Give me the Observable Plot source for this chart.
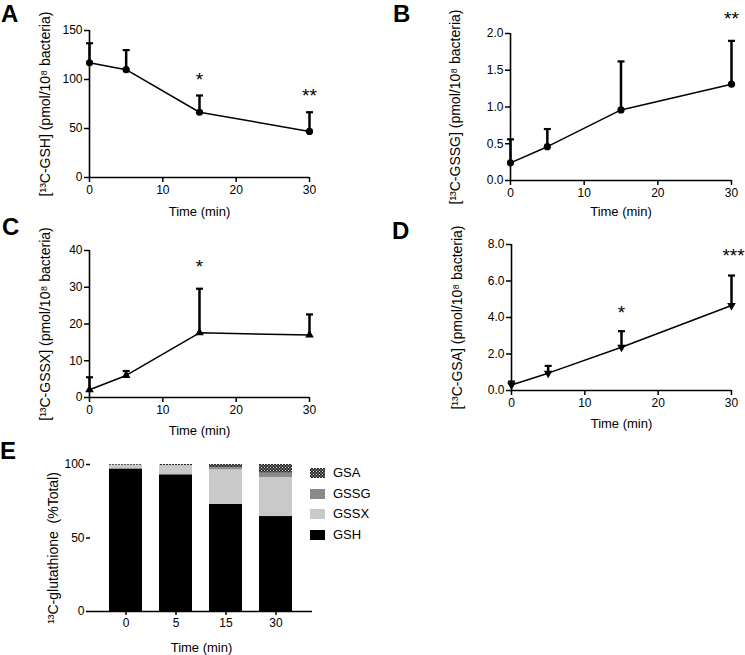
<!DOCTYPE html>
<html><head><meta charset="utf-8">
<script src="https://cdn.jsdelivr.net/npm/d3@7"></script>
<script src="https://cdn.jsdelivr.net/npm/@observablehq/plot@0.6"></script>
<style>
body{margin:0;background:#fff;font-family:"Liberation Sans",Arial,sans-serif;color:#000;}
#root{position:relative;width:745px;height:655px;overflow:hidden;background:#fff;}
.panel{position:absolute;}
.letter{position:absolute;font-weight:bold;font-size:24px;line-height:24px;}
.legend{position:absolute;left:310px;top:463px;font-size:13px;}
.legend .row{position:relative;height:20.7px;line-height:20px;}
.legend .sw{position:absolute;left:0;top:5px;width:15px;height:10px;}
.legend .tx{position:absolute;left:23px;top:0;}
</style></head>
<body><div id="root"></div>
<script>
// ---- data ----
const times = [0, 5, 15, 30];
const xTicks = [0, 10, 20, 30];

const gshMean  = [117, 110, 66.6, 47];
const gshUpper = [137, 130, 83.7, 66.6];
const gssgMean  = [0.24, 0.46, 0.96, 1.31];
const gssgUpper = [0.56, 0.70, 1.62, 1.90];
const gssxMean  = [2.1, 6.0, 17.6, 17.0];
const gssxUpper = [5.5, 7.2, 29.6, 22.6];
const gsaMean  = [0.3, 0.95, 2.37, 4.66];
const gsaUpper = [0.49, 1.35, 3.25, 6.3];

// significance annotations (time, y position, symbol)
const starsA = [{t: 15, y: 100, s: "*"}, {t: 30, y: 83.7, s: "**"}];
const starsB = [{t: 30, y: 2.20, s: "**"}];
const starsC = [{t: 15, y: 35.4, s: "*"}];
const starsD = [{t: 15, y: 4.27, s: "*"}, {t: 30, y: 7.40, s: "***", shift: true}];

const ticksA = [0, 50, 100, 150];
const ticksB = [0, 0.5, 1.0, 1.5, 2.0];
const ticksC = [0, 10, 20, 30, 40];
const ticksD = [0, 2, 4, 6, 8];

const labelA = "[¹³C-GSH] (pmol/10⁸ bacteria)";
const labelB = "[¹³C-GSSG] (pmol/10⁸ bacteria)";
const labelC = "[¹³C-GSSX] (pmol/10⁸ bacteria)";
const labelD = "[¹³C-GSA] (pmol/10⁸ bacteria)";
const labelX = "Time (min)";

// panel E (percent of total)
const barTimes = ["0", "5", "15", "30"];
const seriesNames = ["GSH", "GSSX", "GSSG", "GSA"];
const pctGSH  = [97.0, 93.0, 72.8, 64.6];
const pctGSSX = [2.3, 6.1, 23.6, 26.6];
const pctGSSG = [0.2, 0.2, 1.4, 2.9];
const pctGSA  = [0.5, 0.7, 2.2, 5.9];
const seriesColors = ["#000000", "#c9c9c9", "#8a8a8a", "url(#gsaCheck)"];
const labelE = "¹³C-glutathione\u00a0 (%Total)";

// ---- helpers ----
const root = document.getElementById("root");
const capSymbol = {draw(ctx, size) { const r = Math.sqrt(size / Math.PI); ctx.moveTo(-r, 0); ctx.lineTo(r, 0); }};
const baseStyle = {background: "transparent", fontFamily: "'Liberation Sans', Arial, sans-serif", fontSize: "12px", color: "#000", overflow: "visible"};

function place(el, left, top) {
  el.classList.add("panel");
  el.style.left = left + "px";
  el.style.top = top + "px";
  root.appendChild(el);
}
function letter(t, left, top) {
  const d = document.createElement("div");
  d.className = "letter"; d.textContent = t;
  d.style.left = left + "px"; d.style.top = top + "px";
  root.appendChild(d);
}

function linePanel(o) {
  const rows = times.map((t, i) => ({t, m: o.mean[i], u: o.upper[i]}));
  return Plot.plot({
    width: o.width, height: o.height,
    marginLeft: o.ml, marginRight: o.mr, marginTop: o.mt, marginBottom: o.mb,
    style: baseStyle,
    x: {domain: [0, 30]},
    y: {domain: [o.ticks[0], o.ticks[o.ticks.length - 1]]},
    marks: [
      Plot.axisX({ticks: xTicks, tickSize: 5, tickPadding: 3, strokeWidth: 1.5, fontSize: 12, label: null}),
      Plot.axisY({ticks: o.ticks, tickFormat: o.fmt, tickSize: 5, tickPadding: 2, strokeWidth: 1.5, fontSize: 12, label: null}),
      Plot.ruleY([o.ticks[0]], {stroke: "#000", strokeWidth: 1.6}),
      Plot.ruleX([0], {stroke: "#000", strokeWidth: 1.6}),
      Plot.ruleX(rows, {x: "t", y1: "m", y2: "u", stroke: "#000", strokeWidth: 2.5}),
      Plot.dot(rows, {x: "t", y: "u", symbol: capSymbol, r: 3.5, stroke: "#000", strokeWidth: 2.2, fill: "none"}),
      Plot.line(rows, {x: "t", y: "m", stroke: "#000", strokeWidth: 1.5}),
      Plot.dot(rows, {x: "t", y: "m", symbol: o.symbol, r: o.r, fill: "#000", stroke: "none", rotate: o.rotate || 0}),
      Plot.text(o.stars, {filter: (d) => !d.shift, x: "t", y: "y", text: "s", fontSize: 19, fill: "#000"}),
      Plot.text(o.stars, {filter: (d) => d.shift, x: "t", y: "y", text: "s", fontSize: 19, dx: 2, fill: "#000"}),
      Plot.text([o.label], {frameAnchor: "left", textAnchor: "middle", lineAnchor: "middle", rotate: -90, dx: o.ldx, fontSize: 14, fill: "#000"}),
      Plot.text([labelX], {frameAnchor: "bottom", textAnchor: "middle", lineAnchor: "middle", dy: o.xdy, fontSize: 13, fill: "#000"})
    ]
  });
}

// ---- panels A-D ----
place(linePanel({mean: gshMean, upper: gshUpper, ticks: ticksA, fmt: d3.format("d"), label: labelA,
  symbol: "circle", r: 3.6, stars: starsA, width: 372, height: 220, ml: 89, mr: 63, mt: 30, mb: 43, ldx: -44, xdy: 34}), 0, 0);
place(linePanel({mean: gssgMean, upper: gssgUpper, ticks: ticksB, fmt: d3.format(".1f"), label: labelB,
  symbol: "circle", r: 3.6, stars: starsB, width: 373, height: 220, ml: 138, mr: 14, mt: 33, mb: 40, ldx: -55, xdy: 31}), 372, 0);
place(linePanel({mean: gssxMean, upper: gssxUpper, ticks: ticksC, fmt: d3.format("d"), label: labelC,
  symbol: "triangle", r: 3.2, stars: starsC, width: 372, height: 230, ml: 89, mr: 63, mt: 40, mb: 43, ldx: -44, xdy: 33}), 0, 210);
place(linePanel({mean: gsaMean, upper: gsaUpper, ticks: ticksD, fmt: d3.format(".1f"), label: labelD,
  symbol: "triangle", r: 3.2, rotate: 180, stars: starsD, width: 373, height: 230, ml: 139, mr: 14, mt: 34, mb: 50, ldx: -54, xdy: 33}), 372, 210);

// ---- panel E ----
const stackRows = [];
barTimes.forEach((t, i) => {
  const vals = [pctGSH[i], pctGSSX[i], pctGSSG[i], pctGSA[i]];
  seriesNames.forEach((s, j) => stackRows.push({time: t, series: s, value: vals[j]}));
});
const pE = Plot.plot({
  width: 450, height: 215, marginLeft: 90, marginRight: 138, marginTop: 24, marginBottom: 44,
  style: baseStyle,
  x: {type: "band", domain: barTimes, paddingInner: 0.333, paddingOuter: 0.343},
  y: {domain: [0, 100]},
  color: {domain: seriesNames, range: seriesColors},
  marks: [
    Plot.barY(stackRows, {x: "time", y: "value", fill: "series"}),
    Plot.axisX({tickSize: 4, tickPadding: 3, strokeWidth: 1.5, fontSize: 12, label: null}),
    Plot.axisY({ticks: [0, 50, 100], tickSize: 4, tickPadding: 2, strokeWidth: 1.5, fontSize: 12, label: null}),
    Plot.ruleY([0], {stroke: "#000", strokeWidth: 1.6}),
    Plot.ruleX([0], {frameAnchor: "left", stroke: "#000", strokeWidth: 1.6}),
    Plot.text([labelE], {frameAnchor: "left", textAnchor: "middle", lineAnchor: "middle", rotate: -90, dx: -37, dy: 10, fontSize: 14, fill: "#000"}),
    Plot.text([labelX], {frameAnchor: "bottom", textAnchor: "middle", lineAnchor: "middle", dy: 36, fontSize: 13, fill: "#000"})
  ]
});
// checker pattern for GSA
const defs = d3.select(pE).insert("defs", ":first-child");
const pat = defs.append("pattern").attr("id", "gsaCheck").attr("width", 3).attr("height", 3).attr("patternUnits", "userSpaceOnUse");
pat.append("rect").attr("width", 3).attr("height", 3).attr("fill", "#2a2a2a");
pat.append("rect").attr("x", 0).attr("y", 0).attr("width", 1).attr("height", 1).attr("fill", "#e0e0e0");
pat.append("rect").attr("x", 1.5).attr("y", 1.5).attr("width", 1).attr("height", 1).attr("fill", "#e0e0e0");
place(pE, 0, 440);

// legend for E (top to bottom: GSA, GSSG, GSSX, GSH)
const leg = document.createElement("div");
leg.className = "legend";
seriesNames.slice().reverse().forEach((s) => {
  const c = seriesColors[seriesNames.indexOf(s)];
  const row = document.createElement("div"); row.className = "row";
  row.innerHTML = `<svg class="sw" width="15" height="10"><rect width="15" height="10" fill="${c}"></rect></svg><span class="tx">${s}</span>`;
  leg.appendChild(row);
});
root.appendChild(leg);

// panel letters
letter("A", 1, 2); letter("B", 393, 2); letter("C", 2, 215); letter("D", 392, 219); letter("E", 0, 439);
</script>
</body></html>
